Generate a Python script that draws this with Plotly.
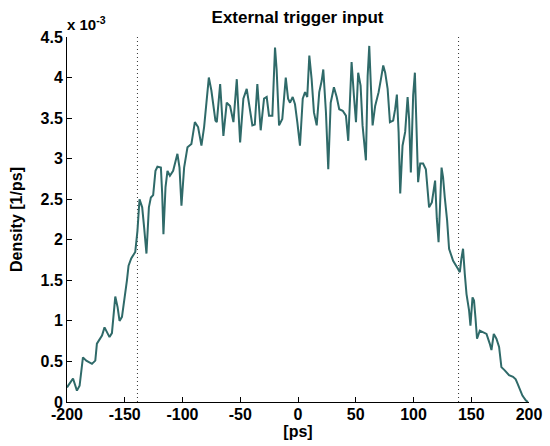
import plotly.graph_objects as go

# time offsets [ps]
time_ps = [
    -200.0, -194.8, -191.4, -189.1, -186.2, -183.3, -178.4, -175.5, -174.1, -169.7,
    -167.5, -165.4, -163.2, -161.1, -159.7, -158.2, -156.2, -154.5, -152.4, -150.2,
    -148.1, -146.7, -144.4, -140.9, -139.0, -137.2, -134.9, -133.2, -131.2, -129.1,
    -127.4, -125.4, -123.4, -121.7, -118.7, -117.6, -116.5, -114.7, -113.0, -110.9,
    -108.1, -104.4, -102.6, -100.9, -98.6, -95.7, -92.3, -89.3, -86.5, -83.6,
    -81.3, -77.2, -75.0, -71.5, -70.3, -67.4, -64.6, -61.7, -58.8, -55.9,
    -53.0, -50.1, -47.3, -44.4, -41.5, -39.5, -37.4, -35.2, -32.3, -29.4,
    -27.1, -25.1, -22.2, -19.9, -18.5, -16.4, -13.6, -10.6, -8.6, -6.9,
    -4.6, -2.6, -0.6, 1.7, 4.1, 6.1, 8.0, 9.8, 11.8, 13.8,
    16.2, 18.4, 20.5, 21.9, 24.2, 26.2, 28.3, 31.1, 33.5, 35.7,
    38.7, 41.5, 43.5, 45.0, 46.4, 48.4, 50.2, 52.1, 54.2, 55.9,
    57.9, 58.8, 60.3, 61.7, 63.1, 64.6, 66.8, 69.8, 71.8, 73.8,
    75.5, 77.6, 79.6, 82.4, 84.1, 85.6, 87.1, 88.5, 90.5, 92.8,
    94.9, 96.2, 97.7, 99.7, 101.2, 102.6, 104.0, 105.8, 108.3, 110.7,
    113.5, 115.9, 118.7, 120.2, 121.7, 124.3, 125.6, 127.1, 129.1, 130.8,
    134.3, 138.6, 140.1, 141.5, 142.9, 144.4, 145.9, 148.1, 149.3, 151.1,
    152.4, 153.7, 155.0, 157.4, 159.7, 163.2, 166.0, 167.5, 169.5, 171.8,
    174.1, 176.1, 179.0, 182.7, 186.2, 188.5, 190.0, 192.0, 194.3, 197.2,
    199.1,
]

# density in units of 1e-3 [1/ps]
density_e3 = [
    0.18, 0.29, 0.14, 0.20, 0.55, 0.51, 0.47, 0.51, 0.72, 0.82,
    0.92, 0.86, 0.80, 0.85, 1.07, 1.30, 1.17, 1.00, 1.05, 1.25,
    1.50, 1.68, 1.77, 1.85, 2.11, 2.50, 2.40, 2.15, 1.83, 2.40,
    2.52, 2.55, 2.85, 2.90, 2.89, 2.57, 2.07, 2.65, 2.85, 2.79,
    2.85, 3.06, 2.89, 2.42, 2.89, 3.14, 3.18, 3.45, 3.39, 3.16,
    3.39, 4.00, 3.84, 3.47, 3.45, 3.92, 3.28, 3.69, 3.65, 3.45,
    3.98, 3.20, 3.74, 3.86, 3.57, 3.41, 3.42, 3.92, 3.35, 3.74,
    3.76, 3.53, 3.53, 4.37, 4.10, 3.41, 3.49, 4.00, 3.74, 3.69,
    3.76, 3.67, 3.45, 3.16, 3.74, 3.82, 3.76, 4.27, 3.98, 3.57,
    3.41, 3.82, 3.96, 4.10, 3.57, 2.87, 3.69, 3.88, 3.76, 3.61,
    3.59, 3.53, 3.22, 3.74, 4.19, 3.78, 3.45, 4.06, 3.90, 3.41,
    3.08, 2.98, 4.02, 4.39, 3.90, 3.41, 3.65, 3.82, 3.98, 4.15,
    4.06, 3.86, 3.45, 3.47, 3.61, 3.79, 3.33, 2.57, 3.16, 3.33,
    3.76, 3.49, 2.83, 3.78, 4.06, 3.49, 2.71, 2.94, 2.94, 2.87,
    2.40, 2.46, 2.73, 2.26, 1.97, 2.89, 2.77, 2.52, 2.24, 1.89,
    1.74, 1.64, 1.60, 1.77, 1.89, 1.58, 1.33, 1.13, 0.94, 1.29,
    1.25, 1.03, 0.78, 0.88, 0.86, 0.84, 0.72, 0.64, 0.84, 0.78,
    0.68, 0.43, 0.39, 0.33, 0.31, 0.28, 0.23, 0.17, 0.08, 0.02,
    0.00,
]

marker_lines_ps = [-139.0, 139.0]
x_ticks = [-200, -150, -100, -50, 0, 50, 100, 150, 200]
x_tick_labels = ["-200", "-150", "-100", "-50", "0", "50", "100", "150", "200"]
y_ticks = [0, 0.5, 1, 1.5, 2, 2.5, 3, 3.5, 4, 4.5]
y_tick_labels = ["0", "0.5", "1", "1.5", "2", "2.5", "3", "3.5", "4", "4.5"]

FONT = "Liberation Sans, Arial, sans-serif"
FS = 16

def b(s):
    return "<b>" + s + "</b>"

fig = go.Figure()
fig.add_trace(go.Scatter(
    x=time_ps, y=density_e3, mode="lines",
    line=dict(color="#2f6a69", width=2),
    hoverinfo="skip", showlegend=False,
))

for xv in marker_lines_ps:
    fig.add_shape(type="line", xref="x", yref="y", x0=xv, x1=xv, y0=0, y1=4.5,
                  line=dict(color="#333333", width=1, dash="1px,3px"), layer="below")

fig.update_layout(
    width=550, height=446,
    margin=dict(l=67, r=21, t=37, b=44),
    paper_bgcolor="white", plot_bgcolor="white",
    font=dict(family=FONT, size=FS, color="black"),
    title=dict(text=b("External trigger input"), x=0.541, xanchor="center",
               y=0.962, yanchor="middle", font=dict(family=FONT, size=17, color="black")),
    xaxis=dict(
        range=[-200, 200], tickmode="array", tickvals=x_ticks,
        ticktext=[b(t) for t in x_tick_labels],
        ticks="inside", ticklen=5, tickcolor="black", tickwidth=1,
        showline=True, linecolor="black", linewidth=1, mirror=False,
        showgrid=False, zeroline=False, automargin=False,
        ticklabelstandoff=-2,
        title=dict(text=b("[ps]"), standoff=1, font=dict(family=FONT, size=FS)),
        tickfont=dict(family=FONT, size=FS),
    ),
    yaxis=dict(
        range=[0, 4.5], tickmode="array", tickvals=y_ticks,
        ticktext=[b(t) for t in y_tick_labels],
        ticks="inside", ticklen=5, tickcolor="black", tickwidth=1,
        showline=True, linecolor="black", linewidth=1, mirror=False,
        showgrid=False, zeroline=False, automargin=False,
        title=dict(text=b("Density [1/ps]"), standoff=13, font=dict(family=FONT, size=FS)),
        tickfont=dict(family=FONT, size=FS),
    ),
    annotations=[dict(
        text=b("x 10<sup>-3</sup>"), xref="paper", yref="paper", x=0, y=1,
        xanchor="left", yanchor="bottom", yshift=2, xshift=-2, showarrow=False,
        font=dict(family=FONT, size=15, color="black"),
    )],
)

fig.write_html("out.html", config={"displayModeBar": False},
               post_script="document.body.style.margin='0px';")
